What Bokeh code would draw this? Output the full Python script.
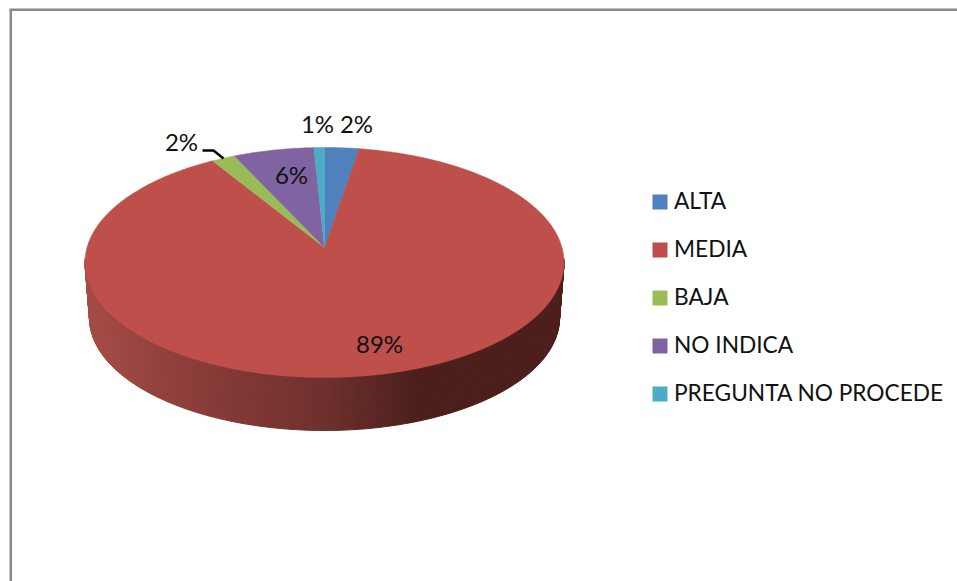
import numpy as np
from bokeh.plotting import figure
from bokeh.models import Range1d
from bokeh.core.properties import value
from bokeh.embed import file_html
from bokeh.resources import INLINE

# data, in the drawing order (clockwise from 12 o'clock)
categories = ["ALTA", "MEDIA", "BAJA", "NO INDICA", "PREGUNTA NO PROCEDE"]
shares = [2.3, 89.4, 1.6, 5.4, 0.7]
labels = ["2%", "89%", "2%", "6%", "1%"]

# styles and layout
colors = ["#4F81BD", "#BE4F4B", "#9BBB59", "#8064A2", "#4BACC6"]
FONT = "Lato"
CX, CY, RX, RY = 324.0, 262.0, 239.5, 115.0      # top face
BCX, BCY, BRX, BRY = 324.0, 317.5, 235.0, 112.5  # bottom rim
APEX = (324.0, 247.0)
label_xy = [(356, 123), (379, 343), (181, 141), (291, 174), (317, 123)]
legend_y = [201.5, 249.5, 297.5, 345.5, 393.5]
legend_text_y = [200, 248, 296, 344, 392]
side_stops_x = [85, 200, 324, 415, 563]
side_stops_rgb = [(165, 76, 72), (137, 60, 56), (110, 48, 45), (76, 31, 28), (76, 30, 28)]

W, H = 957, 581
p = figure(width=W, height=H, output_backend="svg", toolbar_location=None,
           x_range=Range1d(0, W), y_range=Range1d(H, 0),
           min_border=0, outline_line_color=None, background_fill_color="white",
           border_fill_color="white")
p.axis.visible = False
p.grid.visible = False

# frame
p.line([10.3, 10.3], [9, 581], line_color="#8A8A8A", line_width=2.5)
p.line([9, 957], [9.3, 9.3], line_color="#8A8A8A", line_width=2.5)


def top(t):
    return CX + RX * np.sin(t), CY - RY * np.cos(t)


def bottom(t):
    return BCX + BRX * np.sin(t), BCY - BRY * np.cos(t)


# side wall of the large slice, shaded by x
edges = np.radians(np.linspace(88, 272, 181))
xs, ys, cs = [], [], []
for a, b in zip(edges[:-1], edges[1:]):
    xa, ya = top(a)
    xb, yb = top(b)
    xc, yc = bottom(b)
    xd, yd = bottom(a)
    xs.append([xa, xb, xc, xd])
    ys.append([ya, yb, yc, yd])
    xm = (xa + xb + xc + xd) / 4
    rgb = [int(round(np.interp(xm, side_stops_x, [s[k] for s in side_stops_rgb]))) for k in range(3)]
    cs.append("#%02X%02X%02X" % tuple(rgb))
p.patches(xs, ys, fill_color=cs, line_color=cs, line_width=1)

# top face: slices in the order ALTA, MEDIA, BAJA, NO INDICA, PREGUNTA
angles = np.cumsum([0] + shares) / sum(shares) * 2 * np.pi
xs, ys = [], []
for a, b in zip(angles[:-1], angles[1:]):
    t = np.linspace(a, b, max(4, int((b - a) * 120)))
    x, y = top(t)
    xs.append([APEX[0]] + list(x))
    ys.append([APEX[1]] + list(y))
p.patches(xs, ys, fill_color=colors, line_color=colors, line_width=0.5)

# value labels
p.text([q[0] for q in label_xy], [q[1] for q in label_xy], text=labels,
       text_font=value(FONT), text_font_size="24px", text_color="#111111",
       text_align="center", text_baseline="middle")

# leader line of the BAJA label
p.line([202, 213, 223], [150, 150, 158], line_color="black", line_width=2.5)

# legend
p.rect([659.5] * 5, legend_y, width=15, height=15, fill_color=colors, line_color=None)
p.text([673.5] * 5, legend_text_y, text=categories,
       text_font=value(FONT), text_font_size="22.7px", text_color="#111111",
       text_align="left", text_baseline="middle")

open("out.html", "w").write(file_html(p, INLINE))
